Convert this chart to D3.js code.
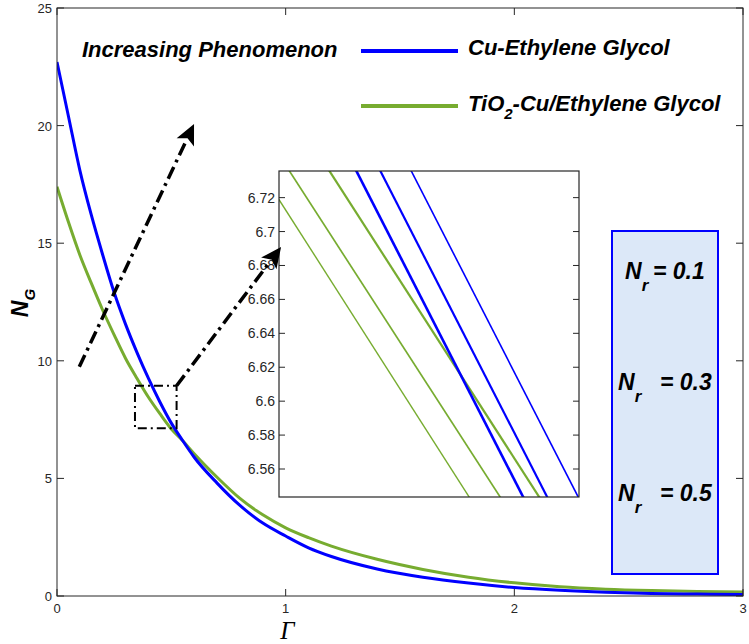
<!DOCTYPE html>
<html><head><meta charset="utf-8">
<script src="https://cdn.jsdelivr.net/npm/d3@7"></script>
<style>body{margin:0;background:#fff}svg{display:block}</style>
</head><body>
<svg id="c" width="749" height="644"></svg>
<script>
// ---- data ----
const gammaCu = [0, 0.05, 0.1, 0.15, 0.2, 0.25, 0.3, 0.35, 0.4, 0.45, 0.5, 0.55, 0.6, 0.7, 0.8, 0.9, 1.0, 1.1, 1.2, 1.4, 1.6, 1.8, 2.0, 2.2, 2.4, 2.6, 2.8, 3.0];
const ngCu    = [22.7, 20.4, 18.1, 16.2, 14.5, 12.9, 11.55, 10.35, 9.25, 8.25, 7.35, 6.6, 5.9, 4.8, 3.85, 3.1, 2.55, 2.05, 1.68, 1.15, 0.8, 0.55, 0.36, 0.24, 0.16, 0.11, 0.08, 0.06];
const gammaTi = [0, 0.05, 0.1, 0.15, 0.2, 0.25, 0.3, 0.35, 0.4, 0.45, 0.5, 0.55, 0.6, 0.7, 0.8, 0.9, 1.0, 1.1, 1.2, 1.4, 1.6, 1.8, 2.0, 2.2, 2.4, 2.6, 2.8, 3.0];
const ngTi    = [17.4, 15.9, 14.5, 13.3, 12.15, 11.1, 10.1, 9.25, 8.45, 7.75, 7.1, 6.6, 6.05, 5.05, 4.15, 3.45, 2.9, 2.48, 2.12, 1.56, 1.13, 0.8, 0.56, 0.39, 0.29, 0.23, 0.19, 0.17];
const xTicks = [0, 1, 2, 3];
const yTicks = [0, 5, 10, 15, 20, 25];
const seriesNames = ["Cu-Ethylene Glycol", "TiO2-Cu/Ethylene Glycol"];
const nrLabels = ["0.1", "0.3", "0.5"];
// inset (zoom) lines: one per Nr value, straight segments between y = 6.74 and y = 6.54
const insetYEnds = [6.74, 6.54];
const insetCuStart = [0.54491, 0.54651, 0.54857];
const insetCuEnd   = [0.55648, 0.55808, 0.56015];
const insetTiStart = [0.53847, 0.54038, 0.54305];
const insetTiEnd   = [0.55293, 0.55500, 0.55760];
const insetYTicks = [6.56, 6.58, 6.6, 6.62, 6.64, 6.66, 6.68, 6.7, 6.72];
// annotation anchors (data units)
const zoomBox = {x0: 0.341, x1: 0.523, y0: 7.13, y1: 8.94};
const arrowMain = {from: [0.0975, 9.75], to: [0.596, 20.0]};

// ---- drawing ----
const svg = d3.select("#c");
const BLUE = "#0000ff", GREEN = "#77ac30";
const FONT = "'Liberation Sans', Arial, sans-serif";
const L = 57, R = 743, T = 8, B = 596;
const x = d3.scaleLinear().domain([0, 3]).range([L, R]);
const y = d3.scaleLinear().domain([0, 25]).range([B, T]);

// curves
const line = d3.line().x(d => x(d[0])).y(d => y(d[1])).curve(d3.curveMonotoneX);
const dataCu = gammaCu.map((g, i) => [g, ngCu[i]]);
const dataTi = gammaTi.map((g, i) => [g, ngTi[i]]);
svg.append("defs").append("clipPath").attr("id", "plotclip")
  .append("rect").attr("x", L).attr("y", T).attr("width", R - L).attr("height", B - T);
const gc = svg.append("g").attr("clip-path", "url(#plotclip)");
gc.append("path").datum(dataTi).attr("d", line).attr("fill", "none").attr("stroke", GREEN).attr("stroke-width", 3);
gc.append("path").datum(dataCu).attr("d", line).attr("fill", "none").attr("stroke", BLUE).attr("stroke-width", 3);

// frame + ticks
const axisColor = "#262626";
svg.append("rect").attr("x", L).attr("y", T).attr("width", R - L).attr("height", B - T)
  .attr("fill", "none").attr("stroke", axisColor).attr("stroke-width", 1);
const tl = 7;
xTicks.forEach(t => {
  svg.append("line").attr("x1", x(t)).attr("x2", x(t)).attr("y1", B).attr("y2", B - tl).attr("stroke", axisColor);
  svg.append("line").attr("x1", x(t)).attr("x2", x(t)).attr("y1", T).attr("y2", T + tl).attr("stroke", axisColor);
  svg.append("text").attr("x", x(t)).attr("y", B + 17).attr("text-anchor", "middle")
    .attr("font-family", FONT).attr("font-size", 13).attr("fill", axisColor).text(t);
});
yTicks.forEach(t => {
  svg.append("line").attr("x1", L).attr("x2", L + tl).attr("y1", y(t)).attr("y2", y(t)).attr("stroke", axisColor);
  svg.append("line").attr("x1", R).attr("x2", R - tl).attr("y1", y(t)).attr("y2", y(t)).attr("stroke", axisColor);
  svg.append("text").attr("x", L - 5).attr("y", y(t) + 5).attr("text-anchor", "end")
    .attr("font-family", FONT).attr("font-size", 13).attr("fill", axisColor).text(t);
});

// axis labels
svg.append("text").attr("x", x(1.007)).attr("y", 639).attr("text-anchor", "middle")
  .attr("font-family", "'Liberation Serif', serif").attr("font-style", "italic").attr("font-size", 25).text("Γ");
const yl = svg.append("text").attr("transform", "translate(28,303) rotate(-90)").attr("text-anchor", "middle")
  .attr("font-family", FONT).attr("font-weight", "bold").attr("font-style", "italic").attr("font-size", 23);
yl.append("tspan").text("N");
yl.append("tspan").attr("dy", 7).attr("font-size", 15).text("G");

// legend
const bold = s => s.attr("font-family", FONT).attr("font-weight", "bold").attr("font-style", "italic").attr("font-size", 22).attr("fill", "#000");
bold(svg.append("text").attr("x", 82).attr("y", 57)).text("Increasing Phenomenon");
svg.append("line").attr("x1", 361).attr("x2", 458).attr("y1", 51).attr("y2", 51).attr("stroke", BLUE).attr("stroke-width", 4);
bold(svg.append("text").attr("x", 468).attr("y", 55)).text(seriesNames[0]);
svg.append("line").attr("x1", 361).attr("x2", 458).attr("y1", 106).attr("y2", 106).attr("stroke", GREEN).attr("stroke-width", 4);
const t2 = bold(svg.append("text").attr("x", 468).attr("y", 111));
t2.append("tspan").text("TiO");
t2.append("tspan").attr("dy", 8).attr("font-size", 15).text("2");
t2.append("tspan").attr("dy", -8).text("-Cu/Ethylene Glycol");

// zoom box + arrows (dash-dot)
const DD = "13,5,3,5";
svg.append("rect").attr("x", x(zoomBox.x0)).attr("y", y(zoomBox.y1))
  .attr("width", x(zoomBox.x1) - x(zoomBox.x0)).attr("height", y(zoomBox.y0) - y(zoomBox.y1))
  .attr("fill", "none").attr("stroke", "#000").attr("stroke-width", 2).attr("stroke-dasharray", "9,4,2,4");

function arrow(p0, p1, w) {
  const ang = Math.atan2(p1[1] - p0[1], p1[0] - p0[0]);
  const hl = 17, hw = 8;
  const bx = p1[0] - hl * Math.cos(ang), by = p1[1] - hl * Math.sin(ang);
  svg.append("line").attr("x1", p0[0]).attr("y1", p0[1]).attr("x2", bx).attr("y2", by)
    .attr("stroke", "#000").attr("stroke-width", w).attr("stroke-dasharray", DD);
  const px = -Math.sin(ang), py = Math.cos(ang);
  svg.append("path").attr("d", `M${p1[0]},${p1[1]}L${bx + hw * px},${by + hw * py}L${bx + 4 * Math.cos(ang)},${by + 4 * Math.sin(ang)}L${bx - hw * px},${by - hw * py}Z`)
    .attr("fill", "#000").attr("stroke", "#000").attr("stroke-width", 1.5);
}
arrow([x(arrowMain.from[0]), y(arrowMain.from[1])], [x(arrowMain.to[0]), y(arrowMain.to[1])], 3.5);

// inset
const IL = 279, IR = 579, IT = 171, IB = 497;
const ix = d3.scaleLinear().domain([0.54, 0.56]).range([IL, IR]);
const iy = d3.scaleLinear().domain([6.5435, 6.7357]).range([IB, IT]);
svg.append("rect").attr("x", IL).attr("y", IT).attr("width", IR - IL).attr("height", IB - IT).attr("fill", "#fff");
svg.select("defs").append("clipPath").attr("id", "insetclip")
  .append("rect").attr("x", IL).attr("y", IT).attr("width", IR - IL).attr("height", IB - IT);
const gi = svg.append("g").attr("clip-path", "url(#insetclip)");
const tiW = [1.4, 1.7, 2.2], cuW = [2.6, 2.2, 1.6];
insetTiStart.forEach((s, i) => {
  gi.append("line").attr("x1", ix(s)).attr("y1", iy(insetYEnds[0])).attr("x2", ix(insetTiEnd[i])).attr("y2", iy(insetYEnds[1]))
    .attr("stroke", GREEN).attr("stroke-width", tiW[i]);
});
insetCuStart.forEach((s, i) => {
  gi.append("line").attr("x1", ix(s)).attr("y1", iy(insetYEnds[0])).attr("x2", ix(insetCuEnd[i])).attr("y2", iy(insetYEnds[1]))
    .attr("stroke", BLUE).attr("stroke-width", cuW[i]);
});
svg.append("rect").attr("x", IL).attr("y", IT).attr("width", IR - IL).attr("height", IB - IT)
  .attr("fill", "none").attr("stroke", axisColor).attr("stroke-width", 1.2);
insetYTicks.forEach(t => {
  svg.append("line").attr("x1", IL).attr("x2", IL + 6).attr("y1", iy(t)).attr("y2", iy(t)).attr("stroke", axisColor);
  svg.append("line").attr("x1", IR).attr("x2", IR - 6).attr("y1", iy(t)).attr("y2", iy(t)).attr("stroke", axisColor);
  svg.append("text").attr("x", IL - 4).attr("y", iy(t) + 5).attr("text-anchor", "end")
    .attr("font-family", FONT).attr("font-size", 14).attr("fill", axisColor).text(String(+t.toFixed(2)));
});

// second arrow: from zoom box corner to inset
arrow([x(zoomBox.x1), y(zoomBox.y1)], [IL + 1, iy(6.69)], 3.5);

// Nr box
svg.append("rect").attr("x", 612).attr("y", 231).attr("width", 106).attr("height", 343)
  .attr("fill", "#dce8f8").attr("stroke", BLUE).attr("stroke-width", 2);
const nrRows = [{bx: 625, by: 279, ex: 653}, {bx: 618, by: 390, ex: 660}, {bx: 618, by: 501, ex: 660}];
nrLabels.forEach((v, i) => {
  const r = nrRows[i];
  const t = bold(svg.append("text").attr("x", r.bx).attr("y", r.by)).attr("font-size", 23);
  t.append("tspan").text("N");
  t.append("tspan").attr("dy", 12).attr("font-size", 17).text("r");
  bold(svg.append("text").attr("x", r.ex).attr("y", r.by)).attr("font-size", 23).text("= " + v);
});
</script>
</body></html>
